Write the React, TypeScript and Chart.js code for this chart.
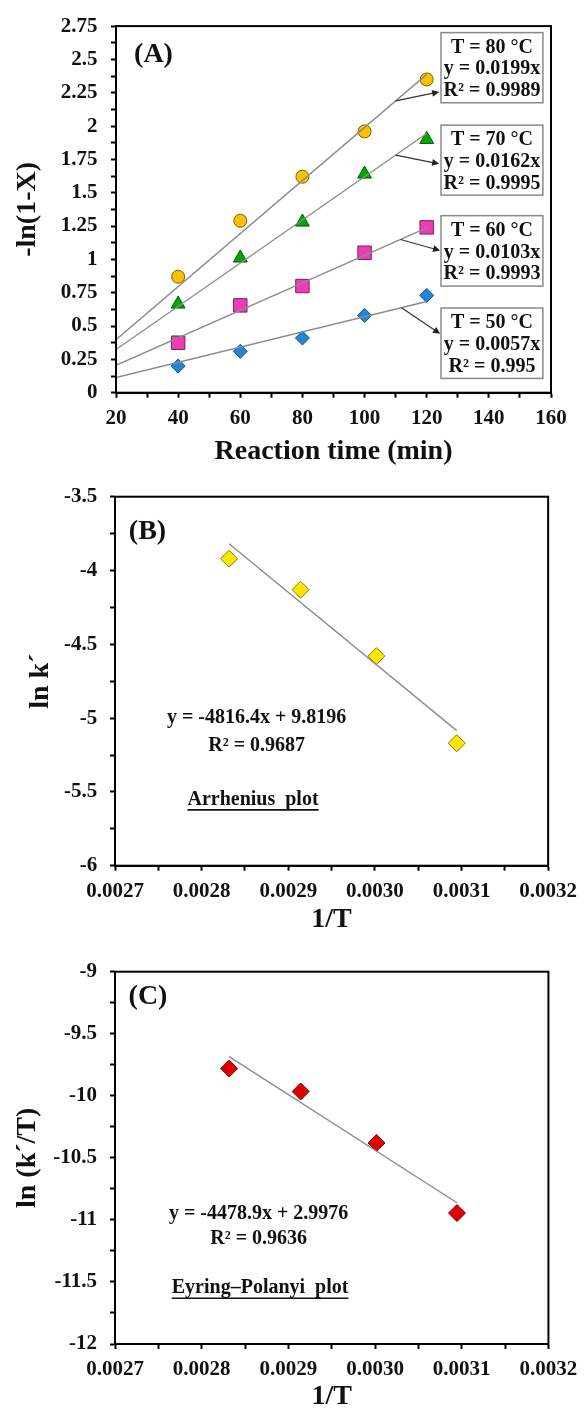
import React, { useEffect, useRef } from 'react';
import { Chart, registerables } from 'chart.js';

Chart.register(...registerables);

const FONT = "'Liberation Serif', 'Times New Roman', serif";

// ---------- Panel A data ----------
const timeMin = [40, 60, 80, 100, 120];
const lnA80 = [0.87, 1.29, 1.62, 1.96, 2.35];
const lnA70 = [0.665, 1.01, 1.28, 1.64, 1.9];
const lnA60 = [0.375, 0.655, 0.8, 1.05, 1.24];
const lnA50 = [0.2, 0.31, 0.41, 0.58, 0.73];
const trendXA = [20, 120];
const trendA80 = [0.398, 2.388];
const trendA70 = [0.324, 1.944];
const trendA60 = [0.206, 1.236];
const trendA50 = [0.114, 0.684];
const boxTextA80 = ['T = 80 °C', 'y = 0.0199x', 'R² = 0.9989'];
const boxTextA70 = ['T = 70 °C', 'y = 0.0162x', 'R² = 0.9995'];
const boxTextA60 = ['T = 60 °C', 'y = 0.0103x', 'R² = 0.9993'];
const boxTextA50 = ['T = 50 °C', 'y = 0.0057x', 'R² = 0.995'];

// ---------- Panel B / C data ----------
const invT = [0.0028317, 0.0029142, 0.0030017, 0.0030945];
const lnK = [-3.92, -4.13, -4.58, -5.17];
const lnKT = [-9.78, -9.965, -10.38, -10.945];
const trendXBC = [0.0028317, 0.0030945];
const trendB = [-3.819, -5.085];
const trendC = [-9.685, -10.862];
const eqB = ['y = -4816.4x + 9.8196', 'R² = 0.9687'];
const eqC = ['y = -4478.9x + 2.9976', 'R² = 0.9636'];

const pts = (xs: number[], ys: number[]) => xs.map((x, i) => ({ x, y: ys[i] }));

type Annot = {
  panel: { text: string; dx: number; dy: number };
  boxes?: { x1: number; x2: number; y1: number; y2: number; lines: string[] }[];
  arrows?: { x1: number; y1: number; x2: number; y2: number }[];
  texts?: { x: number; y: number; text: string; underline?: boolean }[];
};

const makePlugin = (a: Annot) => ({
  id: 'annot',
  afterDraw(chart: any) {
    const { ctx, chartArea: ca, scales } = chart;
    const X = scales.x, Y = scales.y;
    ctx.save();
    // frame
    ctx.strokeStyle = '#000';
    ctx.lineWidth = 2;
    ctx.strokeRect(ca.left, ca.top, ca.right - ca.left, ca.bottom - ca.top);
    // panel label
    ctx.fillStyle = '#111';
    ctx.font = `bold 28px ${FONT}`;
    ctx.textAlign = 'center';
    ctx.textBaseline = 'middle';
    ctx.fillText(a.panel.text, ca.left + a.panel.dx, ca.top + a.panel.dy);
    // arrows
    (a.arrows || []).forEach((ar) => {
      const x1 = X.getPixelForValue(ar.x1), y1 = Y.getPixelForValue(ar.y1);
      const x2 = X.getPixelForValue(ar.x2), y2 = Y.getPixelForValue(ar.y2);
      const ang = Math.atan2(y2 - y1, x2 - x1);
      ctx.strokeStyle = '#333';
      ctx.fillStyle = '#222';
      ctx.lineWidth = 1.2;
      ctx.beginPath();
      ctx.moveTo(x1, y1);
      ctx.lineTo(x2 - 5 * Math.cos(ang), y2 - 5 * Math.sin(ang));
      ctx.stroke();
      ctx.beginPath();
      ctx.moveTo(x2, y2);
      ctx.lineTo(x2 - 7 * Math.cos(ang) + 3.5 * Math.sin(ang), y2 - 7 * Math.sin(ang) - 3.5 * Math.cos(ang));
      ctx.lineTo(x2 - 7 * Math.cos(ang) - 3.5 * Math.sin(ang), y2 - 7 * Math.sin(ang) + 3.5 * Math.cos(ang));
      ctx.closePath();
      ctx.fill();
    });
    // boxes
    (a.boxes || []).forEach((b) => {
      const l = X.getPixelForValue(b.x1), r = X.getPixelForValue(b.x2);
      const t = Y.getPixelForValue(b.y1), bt = Y.getPixelForValue(b.y2);
      ctx.fillStyle = '#fff';
      ctx.fillRect(l, t, r - l, bt - t);
      ctx.strokeStyle = '#8a8a8a';
      ctx.lineWidth = 1.5;
      ctx.strokeRect(l, t, r - l, bt - t);
      ctx.fillStyle = '#111';
      ctx.font = `bold 20px ${FONT}`;
      ctx.textAlign = 'center';
      ctx.textBaseline = 'middle';
      const cx = (l + r) / 2, cy = (t + bt) / 2 + 1.5;
      b.lines.forEach((s, i) => ctx.fillText(s, cx, cy + (i - 1) * 21.7));
    });
    // free texts
    (a.texts || []).forEach((tx) => {
      const px = X.getPixelForValue(tx.x), py = Y.getPixelForValue(tx.y);
      ctx.fillStyle = '#111';
      ctx.font = `bold 20px ${FONT}`;
      ctx.textAlign = 'center';
      ctx.textBaseline = 'middle';
      ctx.fillText(tx.text, px, py);
      if (tx.underline) {
        const w = ctx.measureText(tx.text).width;
        ctx.strokeStyle = '#111';
        ctx.lineWidth = 1.6;
        ctx.beginPath();
        ctx.moveTo(px - w / 2, py + 10);
        ctx.lineTo(px + w / 2, py + 10);
        ctx.stroke();
      }
    });
    ctx.restore();
  },
});

type AxisCfg = {
  min: number; max: number; step: number; labelEvery: number; decimals?: number;
  title: string; titlePad: number; size: number; labelPad: number;
};

const makeScales = (xa: AxisCfg, ya: AxisCfg) => {
  const fmt = (a: AxisCfg) => (v: number) => {
    const k = Math.round((v - a.min) / a.step);
    const every = Math.round(a.labelEvery / a.step);
    if (k % every !== 0) return '';
    return a.decimals !== undefined ? v.toFixed(a.decimals) : String(parseFloat(v.toFixed(6)));
  };
  const common = (a: AxisCfg) => ({
    type: 'linear',
    min: a.min,
    max: a.max,
    border: { display: true, color: '#000', width: 2 },
    grid: { drawOnChartArea: false, drawTicks: true, tickLength: 5, tickWidth: 2, tickColor: '#000' },
    ticks: {
      stepSize: a.step,
      autoSkip: false,
      maxRotation: 0,
      minRotation: 0,
      padding: a.labelPad,
      color: '#111',
      font: { family: FONT, size: 21, weight: 'bold' },
      callback: fmt(a),
    },
  });
  return {
    x: {
      ...common(xa),
      position: 'bottom',
      title: {
        display: true, text: xa.title, color: '#111',
        font: { family: FONT, size: 28, weight: 'bold', lineHeight: 1 },
        padding: { top: 0, bottom: xa.titlePad },
      },
      afterFit: (s: any) => { s.height = xa.size; },
    },
    y: {
      ...common(ya),
      position: 'left',
      title: {
        display: true, text: ya.title, color: '#111',
        font: { family: FONT, size: 28, weight: 'bold', lineHeight: 1 },
        padding: { top: ya.titlePad, bottom: 0 },
      },
      afterFit: (s: any) => { s.width = ya.size; },
    },
  };
};

const trendStyle = {
  showLine: true, borderColor: '#8c8c8c', borderWidth: 1.4, pointRadius: 0, pointHoverRadius: 0, order: 0,
};
const marker = (style: string, r: number, bg: string, bd: string) => ({
  pointStyle: style, pointRadius: r, pointHoverRadius: r, backgroundColor: bg, borderColor: bd, pointBorderWidth: 1, showLine: false, order: 1,
});

function Panel({ height, config }: { height: number; config: any }) {
  const ref = useRef<HTMLCanvasElement>(null);
  useEffect(() => {
    const chart = new Chart(ref.current as HTMLCanvasElement, config);
    return () => chart.destroy();
  }, []);
  return <canvas ref={ref} width={585} height={height} style={{ display: 'block', width: 585, height }} />;
}

const baseOptions = (scales: any, padding: any) => ({
  responsive: false,
  animation: false,
  devicePixelRatio: 1,
  layout: { padding },
  plugins: { legend: { display: false }, tooltip: { enabled: false } },
  scales,
});

const configA = {
  type: 'scatter',
  data: {
    datasets: [
      { label: '80 °C fit', data: pts(trendXA, trendA80), ...trendStyle },
      { label: '70 °C fit', data: pts(trendXA, trendA70), ...trendStyle },
      { label: '60 °C fit', data: pts(trendXA, trendA60), ...trendStyle },
      { label: '50 °C fit', data: pts(trendXA, trendA50), ...trendStyle },
      { label: 'T = 80 °C', data: pts(timeMin, lnA80), ...marker('circle', 6.5, '#FFC000', '#7a5c00') },
      { label: 'T = 70 °C', data: pts(timeMin, lnA70), ...marker('triangle', 8, '#00A800', '#005a00') },
      { label: 'T = 60 °C', data: pts(timeMin, lnA60), ...marker('rect', 9.5, '#F03CB4', '#7a1f5c') },
      { label: 'T = 50 °C', data: pts(timeMin, lnA50), ...marker('rectRot', 7, '#1E88D8', '#1a4f80') },
    ],
  },
  options: baseOptions(
    makeScales(
      { min: 20, max: 160, step: 10, labelEvery: 20, title: 'Reaction time (min)', titlePad: 4, size: 77.3, labelPad: 8 },
      { min: 0, max: 2.75, step: 0.125, labelEvery: 0.25, title: '-ln(1-X)', titlePad: 14, size: 116, labelPad: 13.5 },
    ),
    { top: 22.7, right: 34, bottom: 0, left: 0 },
  ),
  plugins: [
    makePlugin({
      panel: { text: '(A)', dx: 37.5, dy: 29 },
      arrows: [
        { x1: 110, y1: 2.189, x2: 124, y2: 2.256 },
        { x1: 110, y1: 1.782, x2: 124, y2: 1.717 },
        { x1: 111.6, y1: 1.149, x2: 124.3, y2: 1.066 },
        { x1: 111.9, y1: 0.638, x2: 124.3, y2: 0.442 },
      ],
      boxes: [
        { x1: 124.6, x2: 157.4, y1: 2.701, y2: 2.175, lines: boxTextA80 },
        { x1: 124.6, x2: 157.4, y1: 2.007, y2: 1.482, lines: boxTextA70 },
        { x1: 124.6, x2: 157.4, y1: 1.328, y2: 0.8, lines: boxTextA60 },
        { x1: 124.6, x2: 157.4, y1: 0.635, y2: 0.107, lines: boxTextA50 },
      ],
    }),
  ],
};

const configB = {
  type: 'scatter',
  data: {
    datasets: [
      { label: 'fit', data: pts(trendXBC, trendB), ...trendStyle },
      { label: 'ln k´', data: pts(invT, lnK), ...marker('rectRot', 8.5, '#FFE600', '#8a7a00') },
    ],
  },
  options: baseOptions(
    makeScales(
      { min: 0.0027, max: 0.0032, step: 0.00005, labelEvery: 0.0001, decimals: 4, title: '1/T', titlePad: 6, size: 74.3, labelPad: 8 },
      { min: -6, max: -3.5, step: 0.25, labelEvery: 0.5, title: 'ln k´', titlePad: 27, size: 115, labelPad: 12.7 },
    ),
    { top: 26.7, right: 34, bottom: 0, left: 0 },
  ),
  plugins: [
    makePlugin({
      panel: { text: '(B)', dx: 32.5, dy: 35 },
      texts: [
        { x: 0.0028635, y: -5.0, text: eqB[0] },
        { x: 0.0028635, y: -5.189, text: eqB[1] },
        { x: 0.0028593, y: -5.554, text: 'Arrhenius  plot', underline: true },
      ],
    }),
  ],
};

const configC = {
  type: 'scatter',
  data: {
    datasets: [
      { label: 'fit', data: pts(trendXBC, trendC), ...trendStyle },
      { label: 'ln (k´/T)', data: pts(invT, lnKT), ...marker('rectRot', 8.5, '#E00000', '#7a0000') },
    ],
  },
  options: baseOptions(
    makeScales(
      { min: 0.0027, max: 0.0032, step: 0.00005, labelEvery: 0.0001, decimals: 4, title: '1/T', titlePad: 1, size: 68, labelPad: 7.7 },
      { min: -12, max: -9, step: 0.25, labelEvery: 0.5, title: 'ln (k´/T)', titlePad: 14, size: 115, labelPad: 13 },
    ),
    { top: 31.7, right: 34, bottom: 0, left: 0 },
  ),
  plugins: [
    makePlugin({
      panel: { text: '(C)', dx: 33, dy: 25 },
      texts: [
        { x: 0.0028657, y: -10.952, text: eqC[0] },
        { x: 0.0028657, y: -11.154, text: eqC[1] },
        { x: 0.0028674, y: -11.551, text: 'Eyring–Polanyi  plot', underline: true },
      ],
    }),
  ],
};

export default function App() {
  return (
    <div style={{ position: 'absolute', left: 0, top: 0, width: 585, height: 1412, background: '#fff' }}>
      <Panel height={470} config={configA} />
      <Panel height={470} config={configB} />
      <Panel height={472} config={configC} />
    </div>
  );
}
